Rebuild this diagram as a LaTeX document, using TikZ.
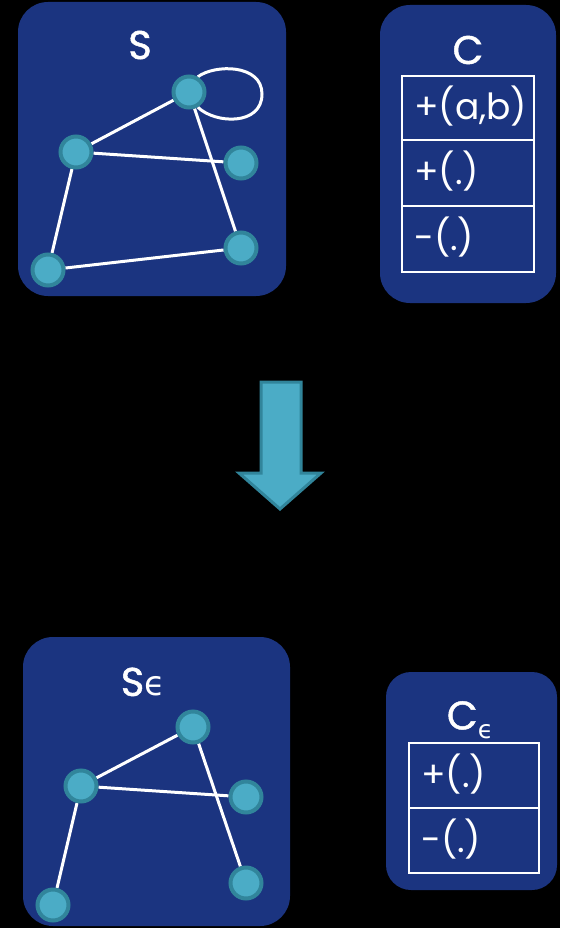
\documentclass[tikz,border=0pt]{standalone}
\usepackage{fontspec}
\setmainfont{Poppins}
\newfontfamily\grk{DejaVu Sans}
\pgfdeclarelayer{boxes}
\pgfdeclarelayer{edges}
\pgfsetlayers{boxes,edges,main}
\definecolor{panel}{RGB}{27,52,128}
\definecolor{vfill}{RGB}{75,172,198}
\definecolor{vline}{RGB}{49,133,155}
\tikzset{
  panelbox/.style={fill=panel, rounded corners=30pt},
  vertex/.style={circle, fill=vfill, draw=vline, line width=4pt, minimum size=31pt, inner sep=0pt},
  link/.style={draw=white, line width=3pt},
  tbl/.style={draw=white, line width=2pt},
  title/.style={text=white, font=\fontsize{40}{44}\selectfont\addfontfeature{FakeBold=1.2}, inner sep=0pt},
  cell/.style={text=white, font=\fontsize{36}{40}\selectfont, anchor=west, inner sep=0pt},
  bigarrow/.style={fill=vfill, draw=vline, line width=3pt, line join=miter}
}
\begin{document}
\begin{tikzpicture}[x=1pt, y=-1pt]
\useasboundingbox (0,0) rectangle (560,928);

% ---- background and panels ----
\begin{pgfonlayer}{boxes}
  \fill[black] (0,0) rectangle (560,928);
  \path[panelbox] (18,2) rectangle (286,296);
  \path[panelbox] (380,5) rectangle (556,303);
  \path[panelbox] (23,637) rectangle (290,926);
  \path[panelbox, rounded corners=25pt] (386,672) rectangle (557,890);
\end{pgfonlayer}

% ---- graph S ----
\node[title] (sTitle) at (140,45) {S};
\node[vertex] (sT) at (189,92) {};
\node[vertex] (sL) at (76,152) {};
\node[vertex] (sR) at (241,163) {};
\node[vertex] (sBL) at (48,270) {};
\node[vertex] (sBR) at (241,248) {};
\begin{pgfonlayer}{edges}
  \draw[link] (sT) -- (sL);
  \draw[link] (sL) -- (sR);
  \draw[link] (sL) -- (sBL);
  \draw[link] (sBL) -- (sBR);
  \draw[link] (sT) -- (sBR);
  \draw[link] (sT.60) .. controls (215,64) and (262,64) .. (262,94)
                      .. controls (262,126) and (215,124) .. (sT.-60);
\end{pgfonlayer}

% ---- operation table C ----
\node[title] (cTitle) at (468,50) {C};
\draw[tbl] (402,76) rectangle (534,272);
\draw[tbl] (402,140) -- (534,140);
\draw[tbl] (402,206) -- (534,206);
\node[cell] (c1) at (414,106) {+(a,b)};
\node[cell] (c2) at (414,171) {+(.)};
\node[cell] (c3) at (414,237) {-(.)};

% ---- transformation arrow ----
\draw[bigarrow] (261,382) -- (301,382) -- (301,473) -- (321,473) -- (280,509)
  -- (239,473) -- (261,473) -- cycle;

% ---- graph S epsilon ----
\node[title] (seTitle) at (143,682) {S{\grk\fontsize{34}{38}\selectfont ϵ}};
\node[vertex] (eT) at (193,727) {};
\node[vertex] (eL) at (81,786) {};
\node[vertex] (eR) at (246,797) {};
\node[vertex] (eBL) at (53,905) {};
\node[vertex] (eBR) at (246,883) {};
\begin{pgfonlayer}{edges}
  \draw[link] (eT) -- (eL);
  \draw[link] (eL) -- (eR);
  \draw[link] (eL) -- (eBL);
  \draw[link] (eT) -- (eBR);
\end{pgfonlayer}

% ---- operation table C epsilon ----
\node[title] (ceTitle) at (470,720) {C\raisebox{-9pt}{\grk\fontsize{25}{27}\selectfont ϵ}};
\draw[tbl] (409,743) rectangle (539,873);
\draw[tbl] (409,808) -- (539,808);
\node[cell] (ce1) at (421,774) {+(.)};
\node[cell] (ce2) at (421,839) {-(.)};
\end{tikzpicture}
\end{document}
